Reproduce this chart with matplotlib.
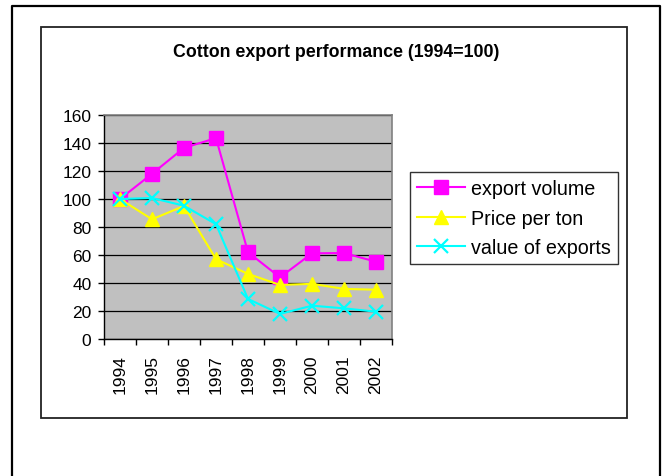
import matplotlib.pyplot as plt
from matplotlib.lines import Line2D
from matplotlib.patches import Rectangle

years = ["1994", "1995", "1996", "1997", "1998", "1999", "2000", "2001", "2002"]
export_volume = [100, 118, 136.5, 143.5, 62, 44, 61.2, 61.4, 55.2]
price_per_ton = [100, 85.5, 95, 57, 46.5, 38.6, 39.4, 35.8, 35.2]
value_of_exports = [100, 100.7, 95.2, 82, 28.6, 17.9, 23.8, 21.9, 19.5]

plt.rcParams['font.family'] = ['Liberation Sans', 'DejaVu Sans']

W, H = 664, 477
fig = plt.figure(figsize=(W / 100, H / 100), dpi=100)

def fx(px):
    return px / W

def fy(py):
    return 1 - py / H

# outer frame (bottom edge runs off the picture)
fig.add_artist(Line2D([fx(12), fx(12), fx(660), fx(660)], [0, fy(7), fy(7), 0],
                      transform=fig.transFigure, color='black', lw=1.6))
# chart box
fig.add_artist(Rectangle((fx(41), fy(419)), fx(627) - fx(41), fy(28) - fy(419),
                         transform=fig.transFigure, fill=False, edgecolor='#222222', lw=1.3))

fig.text(fx(336), fy(57), "Cotton export performance (1994=100)", ha='center', va='baseline',
         fontsize=12.8, fontweight='bold')

ax = fig.add_axes([fx(104), fy(340), fx(392) - fx(104), fy(116) - fy(340)])
ax.set_facecolor('#C0C0C0')
x = range(len(years))
ax.plot(x, export_volume, color='#FF00FF', lw=1.5, marker='s', markersize=9.5, label='export volume')
ax.plot(x, price_per_ton, color='#FFFF00', lw=1.5, marker='^', markersize=9.5, label='Price per ton')
ax.plot(x, value_of_exports, color='#00FFFF', lw=1.5, marker='x', markersize=9.5, mew=1.6,
        label='value of exports')

ax.set_xlim(-0.5, len(years) - 0.5)
ax.set_ylim(0, 160)
ax.set_yticks(range(0, 161, 20))
ax.yaxis.grid(True, color='black', lw=0.9)
ax.set_axisbelow(True)
ax.set_xticks(list(x))
ax.set_xticklabels(years, rotation=90)
ax.set_xticks([i - 0.5 for i in range(len(years) + 1)], minor=True)
ax.tick_params(axis='x', which='major', length=0, pad=11, labelsize=12.5)
ax.tick_params(axis='x', which='minor', length=4, width=1, color='black')
ax.tick_params(axis='y', length=4, width=1, pad=5, labelsize=12.5)
for s in ['top', 'right']:
    ax.spines[s].set_color('#808080')
    ax.spines[s].set_linewidth(1.2)
for s in ['left', 'bottom']:
    ax.spines[s].set_color('black')
    ax.spines[s].set_linewidth(1)

leg = ax.legend(loc='upper left', bbox_to_anchor=(fx(410), fy(173)), bbox_transform=fig.transFigure,
                borderaxespad=0, fontsize=14.2, frameon=True, fancybox=False, shadow=False,
                handlelength=2.45, handletextpad=0.3, labelspacing=0.54, borderpad=0.35)
leg.get_frame().set_edgecolor('black')
leg.get_frame().set_linewidth(1)

fig.savefig('out.png', dpi=100)
